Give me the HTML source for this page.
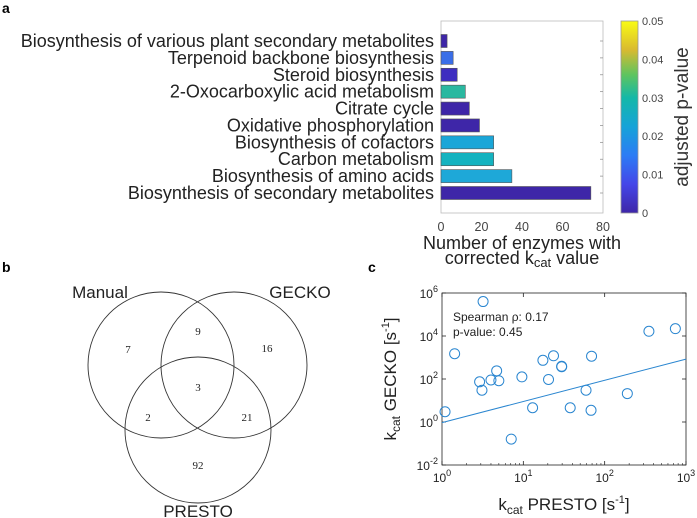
<!DOCTYPE html>
<html><head><meta charset="utf-8"><style>
body{margin:0;background:#fff;}
svg{display:block;font-family:"Liberation Sans",sans-serif;}
</style></head><body>
<svg id="fig" width="697" height="518" viewBox="0 0 697 518">
<defs><linearGradient id="parula" x1="0" y1="1" x2="0" y2="0">
<stop offset="0" stop-color="#3e26a8"/><stop offset="0.15" stop-color="#4446e8"/><stop offset="0.3" stop-color="#2c7cf5"/><stop offset="0.45" stop-color="#16a3d8"/><stop offset="0.6" stop-color="#14b8a8"/><stop offset="0.72" stop-color="#5ec45f"/><stop offset="0.85" stop-color="#d9ba30"/><stop offset="1" stop-color="#f9fb14"/></linearGradient></defs>
<text x="2" y="13" font-weight="bold" font-size="14">a</text>
<text x="2" y="272" font-weight="bold" font-size="14">b</text>
<text x="368" y="272" font-weight="bold" font-size="14">c</text>
<g id="pa"></g>
<g id="pb"></g>
<g id="pc"></g>
</svg>
<script>
const NS="http://www.w3.org/2000/svg";
function mk(p,t,a,txt){const e=document.createElementNS(NS,t);for(const k in a)e.setAttribute(k,a[k]);if(txt!==undefined)e.textContent=txt;p.appendChild(e);return e;}
// ---- Panel a data
const pathways=["Biosynthesis of various plant secondary metabolites","Terpenoid backbone biosynthesis","Steroid biosynthesis","2-Oxocarboxylic acid metabolism","Citrate cycle","Oxidative phosphorylation","Biosynthesis of cofactors","Carbon metabolism","Biosynthesis of amino acids","Biosynthesis of secondary metabolites"];
const enzymeCounts=[3,6,8,12,14,19,26,26,35,74];
const barColors=["#3e26a8","#3a6ee8","#3e2ec0","#2ab8a0","#3e26a8","#3e26a8","#1aa6d8","#14b3c0","#1ea8d8","#3e26a8"];
const xTicksA=[0,20,40,60,80];
const cbTicks=[0,0.01,0.02,0.03,0.04,0.05];
const pa=document.getElementById('pa');
const axL=441,axR=603,axT=21,axB=213;
const xA=v=>axL+(v-0)/(80-0)*(axR-axL);
const step=(193-41)/9;
const yA=i=>41+i*step;
mk(pa,'rect',{x:axL,y:axT,width:axR-axL,height:axB-axT,fill:'none',stroke:'#bbb','stroke-width':0.8,});
xTicksA.forEach(t=>{
 const tx=mk(pa,'text',{x:xA(t),y:axB+18,'text-anchor':'middle','font-size':12.5,fill:'#444'},t);
 
});
pathways.forEach((p,i)=>{
 mk(pa,'line',{x1:axR,x2:axR-3,y1:yA(i),y2:yA(i),stroke:'#888','stroke-width':0.7});
 const r=mk(pa,'rect',{x:axL,y:yA(i)-6.5,width:xA(enzymeCounts[i])-axL,height:13,fill:barColors[i],stroke:'#555','stroke-width':0.6});
 
 const t=mk(pa,'text',{x:434,y:yA(i)+6,'text-anchor':'end','font-size':18,fill:'#222'},p);
 
});
const xl1=mk(pa,'text',{x:522,y:249,'text-anchor':'middle','font-size':18,fill:'#222'},'Number of enzymes with');

const xl2=mk(pa,'text',{x:522,y:264,'text-anchor':'middle','font-size':18,fill:'#222'});

xl2.innerHTML='corrected k<tspan font-size="13" dy="3">cat</tspan><tspan dy="-3"> value</tspan>';
const cbT=21,cbB=213;
const cb=mk(pa,'rect',{x:621,y:cbT,width:17,height:cbB-cbT,fill:'url(#parula)',stroke:'#999','stroke-width':0.8});

cbTicks.forEach(t=>{
 const y=cbB-(t/0.05)*(cbB-cbT);
 const tx=mk(pa,'text',{x:642,y:y+4,'font-size':11,fill:'#444'},String(t));
 
});
const cbl=mk(pa,'text',{x:0,y:0,'font-size':19,fill:'#333','text-anchor':'middle',transform:'translate(688,117) rotate(-90)'},'adjusted p-value');


// ---- Panel b (Venn)
const vennSets=["Manual","GECKO","PRESTO"];
const vennCounts=[7,9,16,3,2,21,92];
const pb=document.getElementById('pb');
const circ=[[161,365],[234,365],[198,430]];
circ.forEach((c,i)=>{
 const e=mk(pb,'circle',{cx:c[0],cy:c[1],r:73,fill:'none',stroke:'#333','stroke-width':0.9});
 
});
const setLabelPos=[[100,298],[300,298],[198,517]];
vennSets.forEach((s,i)=>{
 const t=mk(pb,'text',{x:setLabelPos[i][0],y:setLabelPos[i][1],'text-anchor':'middle','font-size':17,fill:'#222'},s);
 
});
const regionPos=[[128,349],[198,331],[267,348],[198,387],[148,417],[247,417],[198,465]];
vennCounts.forEach((v,i)=>{
 const t=mk(pb,'text',{x:regionPos[i][0],y:regionPos[i][1]+4,'text-anchor':'middle','font-size':11,'font-family':'Liberation Serif, serif',fill:'#222'},v);
 
});

// ---- Panel c (scatter)
const prestoKcat=[1.09,1.43,3.2,2.9,3.1,4.0,4.7,5.0,7.1,9.6,13,17.4,20.4,23.5,29.6,29.6,37.7,59,68,69,190,350,740];
const geckoKcat=[3,1500,4e5,74,30,90,240,83,0.16,125,4.6,740,95,1200,370,390,4.6,30,3.5,1150,21,16600,22000];
const fitIntercept=-0.03, fitSlope=0.985;
const xExp=[0,1,2,3], yExp=[-2,0,2,4,6];
const pc=document.getElementById('pc');
const cL=442,cR=686,cT=293,cB=465;
const xC=v=>cL+(Math.log10(v)-0)/3*(cR-cL);
const yC=v=>cB-(Math.log10(v)+2)/8*(cB-cT);
const fr=mk(pc,'rect',{x:cL,y:cT,width:cR-cL,height:cB-cT,fill:'none',stroke:'#222','stroke-width':0.8});

xExp.forEach(e=>{
 const x=xC(Math.pow(10,e));
 mk(pc,'line',{x1:x,x2:x,y1:cB,y2:cB-4,stroke:'#222','stroke-width':0.8});
 mk(pc,'line',{x1:x,x2:x,y1:cT,y2:cT+4,stroke:'#222','stroke-width':0.8});
 const t=mk(pc,'text',{x:x,y:cB+17,'text-anchor':'middle','font-size':12,fill:'#222'});
 t.innerHTML='10<tspan font-size="9" dy="-6">'+e+'</tspan>';
 
 if(e<3)for(let k=2;k<10;k++){const xx=xC(k*Math.pow(10,e));mk(pc,'line',{x1:xx,x2:xx,y1:cB,y2:cB-2,stroke:'#222','stroke-width':0.6});}
});
yExp.forEach(e=>{
 const y=yC(Math.pow(10,e));
 mk(pc,'line',{x1:cL,x2:cL+4,y1:y,y2:y,stroke:'#222','stroke-width':0.8});
 mk(pc,'line',{x1:cR,x2:cR-4,y1:y,y2:y,stroke:'#222','stroke-width':0.8});
 const t=mk(pc,'text',{x:cL-4,y:y+5,'text-anchor':'end','font-size':12,fill:'#222'});
 t.innerHTML='10<tspan font-size="9" dy="-6">'+e+'</tspan>';
 
});
const fx0=1,fx1=1000;
const fl=mk(pc,'line',{x1:xC(fx0),y1:yC(Math.pow(10,fitIntercept)),x2:xC(fx1),y2:yC(Math.pow(10,fitIntercept+fitSlope*3)),stroke:'#2a86d0','stroke-width':1});

prestoKcat.forEach((v,i)=>{
 const c=mk(pc,'circle',{cx:xC(v),cy:yC(geckoKcat[i]),r:5,fill:'none',stroke:'#2a86d0','stroke-width':1});
 
});
const s1=mk(pc,'text',{x:453,y:321,'font-size':12,fill:'#222'},'Spearman ρ: 0.17');

const s2=mk(pc,'text',{x:453,y:336,'font-size':12,fill:'#222'},'p-value: 0.45');

const xt=mk(pc,'text',{x:564,y:510,'text-anchor':'middle','font-size':17,fill:'#222'});
xt.innerHTML='k<tspan font-size="12" dy="4">cat</tspan><tspan dy="-4"> PRESTO [s</tspan><tspan font-size="11" dy="-7">-1</tspan><tspan dy="7">]</tspan>';

const yt=mk(pc,'text',{x:0,y:0,'text-anchor':'middle','font-size':17,fill:'#222',transform:'translate(396,379) rotate(-90)'});
yt.innerHTML='k<tspan font-size="12" dy="4">cat</tspan><tspan dy="-4"> GECKO [s</tspan><tspan font-size="11" dy="-7">-1</tspan><tspan dy="7">]</tspan>';

</script>
</body></html>
